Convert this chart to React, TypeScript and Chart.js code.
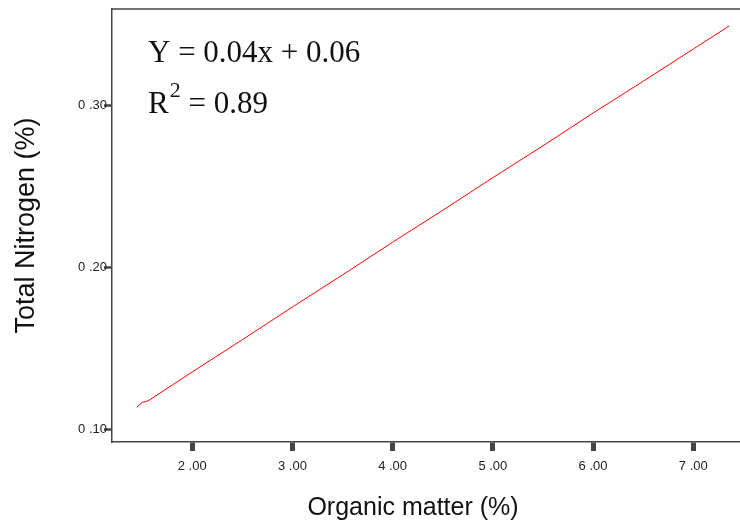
import React, { useEffect, useRef } from "react";
import { Chart, registerables } from "chart.js";

Chart.register(...registerables);

// ---- data ----
const organicMatter = [1.45, 1.5, 1.56, 2.0, 2.5, 3.0, 3.5, 4.0, 4.5, 5.0, 5.5, 6.0, 6.5, 7.0, 7.36];
const totalNitrogen = [0.1138, 0.1166, 0.1176, 0.1354, 0.1553, 0.1755, 0.1953, 0.2155, 0.2352, 0.2553, 0.275, 0.2952, 0.3148, 0.3347, 0.349];
const xTickValues = [2, 3, 4, 5, 6, 7];
const yTickValues = [0.1, 0.2, 0.3];
const xRange = [1.2, 7.466];
const yRange = [0.0922, 0.3594];
const xTitle = "Organic matter (%)";
const yTitle = "Total Nitrogen (%)";
const equationText = "Y = 0.04x + 0.06";
const r2Text = "0.89";

const fmt = (v: number) => v.toFixed(2).replace(".", " .");

const SANS = '"Liberation Sans", Arial, sans-serif';
const SERIF = '"Liberation Serif", "Times New Roman", serif';

const overlayPlugin = {
  id: "overlay",
  afterDraw(chart: any) {
    const { ctx, chartArea } = chart;
    ctx.save();
    // top border of the plot frame
    ctx.strokeStyle = "#444";
    ctx.lineWidth = 1.5;
    ctx.beginPath();
    ctx.moveTo(chartArea.left, chartArea.top);
    ctx.lineTo(chartArea.right, chartArea.top);
    ctx.stroke();

    // x axis title
    ctx.fillStyle = "#111";
    ctx.font = `25px ${SANS}`;
    ctx.textAlign = "center";
    ctx.textBaseline = "middle";
    ctx.fillText(xTitle, chartArea.left + 301, 508);

    // regression annotation
    ctx.textAlign = "left";
    ctx.textBaseline = "alphabetic";
    ctx.font = `31px ${SERIF}`;
    const ax = chartArea.left + 36;
    ctx.fillText(equationText, ax, 62);
    ctx.fillText("R", ax, 113);
    const rW = ctx.measureText("R").width;
    ctx.font = `22px ${SERIF}`;
    ctx.fillText("2", ax + rW + 1, 97);
    const sW = ctx.measureText("2").width;
    ctx.font = `31px ${SERIF}`;
    ctx.fillText(" = " + r2Text, ax + rW + 1 + sW, 113);
    ctx.restore();
  },
};

export default function App() {
  const ref = useRef<HTMLCanvasElement | null>(null);

  useEffect(() => {
    if (!ref.current) return;
    const chart = new Chart(ref.current, {
      type: "line",
      data: {
        datasets: [
          {
            data: organicMatter.map((x, i) => ({ x, y: totalNitrogen[i] })),
            borderColor: "#ff0000",
            borderWidth: 1,
            pointRadius: 0,
            tension: 0,
            fill: false,
          },
        ],
      },
      options: {
        animation: false,
        responsive: false,
        devicePixelRatio: 1,
        layout: { padding: { top: 9, right: 0, left: 0, bottom: 0 } },
        plugins: {
          legend: { display: false },
          tooltip: { enabled: false },
        },
        scales: {
          x: {
            type: "linear",
            min: xRange[0],
            max: xRange[1],
            afterBuildTicks: (s: any) => {
              s.ticks = xTickValues.map((value) => ({ value }));
            },
            afterFit: (s: any) => {
              s.height = 81;
              s.paddingLeft = 0;
              s.paddingRight = 0;
            },
            ticks: {
              callback: (v: any) => fmt(Number(v)),
              color: "#222",
              font: { family: SANS, size: 13 },
              padding: 8,
              maxRotation: 0,
              autoSkip: false,
            },
            grid: {
              drawOnChartArea: false,
              drawTicks: true,
              tickLength: 9,
              tickWidth: 5,
              tickColor: "#444",
            },
            border: { display: true, color: "#444", width: 1.5 },
            title: { display: false },
          },
          y: {
            type: "linear",
            min: yRange[0],
            max: yRange[1],
            afterBuildTicks: (s: any) => {
              s.ticks = yTickValues.map((value) => ({ value }));
            },
            afterFit: (s: any) => {
              s.width = 112;
              s.paddingTop = 0;
              s.paddingBottom = 0;
            },
            ticks: {
              callback: (v: any) => fmt(Number(v)),
              color: "#222",
              font: { family: SANS, size: 13 },
              padding: -3,
              autoSkip: false,
            },
            grid: {
              drawOnChartArea: false,
              drawTicks: true,
              tickLength: 8,
              tickWidth: 2.5,
              tickColor: "#444",
            },
            border: { display: true, color: "#444", width: 1.5 },
            title: {
              display: true,
              text: yTitle,
              color: "#111",
              font: { family: SANS, size: 27 },
              padding: { top: 10, bottom: 0 },
            },
          },
        },
      },
      plugins: [overlayPlugin],
    });
    return () => chart.destroy();
  }, []);

  return (
    <div style={{ position: "fixed", left: 0, top: 0, width: 740, height: 523, background: "#fff" }}>
      <canvas ref={ref} width={740} height={523} style={{ display: "block" }} />
    </div>
  );
}
